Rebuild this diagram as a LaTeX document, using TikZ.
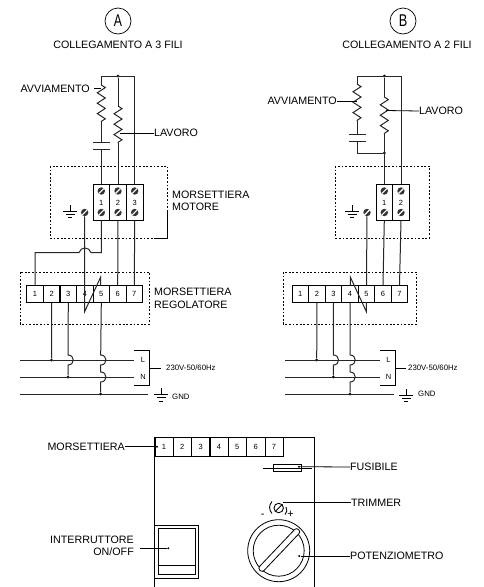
\documentclass[tikz,border=0pt]{standalone}
\usepackage{fontspec}
\setmainfont{Liberation Sans}
\usetikzlibrary{decorations.pathmorphing}

\tikzset{
    wire/.style={line width=1pt, black!85},
    thin wire/.style={line width=0.8pt, black},
    dot box/.style={line width=0.8pt, dash pattern=on 1.8pt off 1.8pt},
    resistor/.style={decorate, decoration={zigzag, segment length=10.4, amplitude=4}},
    cell/.style={draw, line width=0.9pt, minimum width=16.5, minimum height=16.5, inner sep=0pt, font=\fontsize{7.5}{8}\selectfont},
    motor cell/.style={draw, line width=0.9pt, minimum width=16.7, minimum height=36, inner sep=0pt},
    panel cell/.style={draw, line width=0.7pt, minimum width=18.3, minimum height=18.5, inner sep=0pt, font=\fontsize{7.5}{8}\selectfont},
    screw/.style={circle, fill=black!80, minimum size=7.4, inner sep=0pt,
        path picture={\draw[white, line width=1.1pt] (path picture bounding box.south west) -- (path picture bounding box.north east);}},
    junction/.style={circle, fill=black, minimum size=3, inner sep=0pt},
    lbl/.style={inner sep=0pt, font=\fontsize{10.7}{12.4}\selectfont},
    small lbl/.style={inner sep=0pt, font=\fontsize{7.8}{9}\selectfont},
    num/.style={inner sep=0pt, font=\fontsize{7.5}{8}\selectfont},
}

% earth symbol
\newcommand{\earth}[3]{%
    \coordinate (#1) at (#2,#3);
    \draw[thin wire] (#1) -- ++(0,-6.5);
    \draw[thin wire] ([xshift=-7]#1) -- ([xshift=7]#1);
    \draw[thin wire] ([xshift=-4.5,yshift=-3.2]#1) -- ([xshift=4.5,yshift=-3.2]#1);
    \draw[thin wire] ([xshift=-2,yshift=-6.4]#1) -- ([xshift=2,yshift=-6.4]#1);
}

\begin{document}
\begin{tikzpicture}[x=1pt, y=-1pt]
    \useasboundingbox (0,0) rectangle (484,587);

    % titles
    \node[circle, draw, line width=0.7pt, minimum size=26, inner sep=0pt, font=\fontsize{17}{17}\selectfont] (titleA) at (118,21) {\scalebox{.72}[1]{A}};
    \node[lbl] (subA) at (118,44.5) {COLLEGAMENTO A 3 FILI};
    \node[circle, draw, line width=0.7pt, minimum size=26, inner sep=0pt, font=\fontsize{17}{17}\selectfont] (titleB) at (403,21) {\scalebox{.75}[1]{B}};
    \node[lbl] (subB) at (407,45) {COLLEGAMENTO A 2 FILI};

    % motor A
    \draw[dot box] (50,166) rectangle (167.5,238);
    \draw[line width=0.9pt] (154,238) -- (167.5,238) -- (167.5,212);
    \foreach \n/\x in {1/101.3, 2/118, 3/134.7} {
        \node[motor cell] (ma\n) at (\x,202) {};
        \node[num] (na\n) at (\x,202.5) {\n};
        \node[screw] (sa\n) at (\x,191) {};
        \node[screw] (ta\n) at (\x,212.5) {};
        \coordinate (ra\n) at (\x,76);
    }
    \node[screw] (sa0) at (84.7,212.5) {};
    \earth{ea}{70}{211}

    \node[junction] (top) at (118,76) {};
    \coordinate (capa) at (101.3,142);
    \coordinate (capb) at (101.3,149);
    \draw[wire] (ra1) -- (ra3);
    \draw[wire] (ra1) -- (101.3,85);
    \draw[wire, resistor] (101.3,85) -- (101.3,122);
    \draw[wire] (101.3,122) -- (capa);
    \draw[wire] ([xshift=-8.5]capa) -- ([xshift=8.5]capa);
    \draw[wire] ([xshift=-8.5]capb) -- ([xshift=8.5]capb);
    \draw[wire] (capb) -- (ma1.north);
    \draw[wire] (top) -- (118,106);
    \draw[wire, resistor] (118,106) -- (118,143);
    \draw[wire] (118,143) -- (ma2.north);
    \draw[wire] (ra3) -- (ma3.north);

    \node[lbl, anchor=east] (avvA) at (90,88.5) {AVVIAMENTO};
    \draw[thin wire] (avvA.east) ++(4,0) -- (101.3,88.5);
    \node[lbl, anchor=west] (lavA) at (154,133) {LAVORO};
    \draw[thin wire] (120,133) -- (lavA.west);
    \node[lbl, anchor=west, align=left] (motA) at (172,201) {MORSETTIERA\\MOTORE};

    % regolatore A
    \draw[dot box] (20,272) rectangle (149.5,324);
    \foreach \n/\x in {1/35, 2/51.6, 3/68.3, 4/85, 5/101.3, 6/117.7, 7/134.3} {
        \node[cell] (ga\n) at (\x,294) {\n};
    }
    \node[lbl, anchor=west, align=left] (regA) at (154,298.5) {MORSETTIERA\\REGOLATORE};
    \draw[wire] (ga1.north) -- (35,252.5) -- (79,252.5) .. controls (81,246.5) and (89,246.5) .. (91,252.5) -- (101.3,252.5) -- (ma1.south);
    \draw[wire] (sa0) -- (84.7,311.5) -- (100.7,277) -- (100.7,285.7);
    \draw[wire] (ma2.south) -- (ga6.north);
    \draw[wire] (ma3.south) -- (ga7.north);

    % linea A
    \node[junction] (la) at (51.5,360) {};
    \node[junction] (na) at (68,377) {};
    \node[junction] (ga) at (100.7,394) {};
    \coordinate (lla) at (134,360);
    \coordinate (nla) at (134,377);
    \draw[wire] (20,360) -- (lla);
    \draw[wire] (20,377) -- (nla);
    \draw[wire] (20,394) -- (148,394);
    \draw[wire] (ga2.south) -- (la);
    \draw[wire] (ga3.south) -- (68,355) .. controls (75,355) and (75,365) .. (68,365) -- (na);
    \draw[wire] (ga5.south) -- (100.7,355) .. controls (107.7,355) and (107.7,365) .. (100.7,365) -- (100.7,372) .. controls (107.7,372) and (107.7,382) .. (100.7,382) -- (ga);
    \draw[thin wire] (134,350) -- (149,350) -- (149,385) -- (134,385);
    \node[num] (Lla) at (143,360) {L};
    \node[num] (Nla) at (143,377) {N};
    \node[small lbl, anchor=west] (volA) at (166,368) {230V-50/60Hz};
    \draw[thin wire] (149,368) -- (161,368);
    \earth{egA}{161}{394.5}
    \node[small lbl, anchor=west] (gndA) at (172,397) {GND};

    % motor B
    \draw[dot box] (335.3,166) rectangle (429.3,238);
    \foreach \n/\x in {1/384.3, 2/401} {
        \node[motor cell] (mb\n) at (\x,202) {};
        \node[num] (nb\n) at (\x,202.5) {\n};
        \node[screw] (sb\n) at (\x,191) {};
        \node[screw] (tb\n) at (\x,212.5) {};
    }
    \node[screw] (sb0) at (367,212.5) {};
    \earth{eb}{352}{211}

    \node[junction] (topb) at (384.3,76) {};
    \node[junction] (botb) at (384.3,153) {};
    \coordinate (capc) at (357,134);
    \coordinate (capd) at (357,141);
    \draw[wire] (357,76) -- (401,76) -- (mb2.north);
    \draw[wire] (357,76) -- (357,84);
    \draw[wire, resistor] (357,84) -- (357,121);
    \draw[wire] (357,121) -- (capc);
    \draw[wire] ([xshift=-8.5]capc) -- ([xshift=8.5]capc);
    \draw[wire] ([xshift=-8.5]capd) -- ([xshift=8.5]capd);
    \draw[wire] (capd) -- (357,153) -- (botb);
    \draw[wire] (topb) -- (384.3,97);
    \draw[wire, resistor] (384.3,97) -- (384.3,134);
    \draw[wire] (384.3,134) -- (mb1.north);

    \node[lbl, anchor=east] (avvB) at (337,101) {AVVIAMENTO};
    \draw[thin wire] (avvB.east) -- (357,101);
    \node[lbl, anchor=west] (lavB) at (419,111) {LAVORO};
    \draw[thin wire] (386,110.5) -- (lavB.west);

    % regolatore B
    \draw[dot box] (283.3,272) rectangle (416.7,324);
    \foreach \n/\x in {1/300.3, 2/317, 3/333.5, 4/350, 5/366.5, 6/383, 7/399.5} {
        \node[cell] (gb\n) at (\x,294) {\n};
    }
    \draw[wire] (sb0) -- (gb5.north);
    \draw[wire] (mb1.south) -- (gb6.north);
    \draw[wire] (mb2.south) -- (gb7.north);
    \draw[wire] (350.3,285.7) -- (350.3,277) -- (366.3,311.5) -- (366.3,302);

    % linea B
    \node[junction] (lb) at (316.7,360) {};
    \node[junction] (nbb) at (333.3,377) {};
    \node[junction] (gbb) at (350,394) {};
    \coordinate (llb) at (380,360);
    \coordinate (nlb) at (380,377);
    \draw[wire] (285.3,360) -- (llb);
    \draw[wire] (285.3,377) -- (nlb);
    \draw[wire] (285.3,394) -- (394,394);
    \draw[wire] (gb2.south) -- (lb);
    \draw[wire] (gb3.south) -- (333.3,355) .. controls (340.3,355) and (340.3,365) .. (333.3,365) -- (nbb);
    \draw[wire] (gb4.south) -- (350,355) .. controls (357,355) and (357,365) .. (350,365) -- (350,372) .. controls (357,372) and (357,382) .. (350,382) -- (gbb);
    \draw[thin wire] (380,350) -- (395,350) -- (395,385) -- (380,385);
    \node[num] (Llb) at (388.5,360) {L};
    \node[num] (Nlb) at (388.5,377) {N};
    \node[small lbl, anchor=west] (volB) at (408,368) {230V-50/60Hz};
    \draw[thin wire] (395,368) -- (406,368);
    \earth{egB}{406.3}{395}
    \node[small lbl, anchor=west] (gndB) at (418,394) {GND};

    % pannello
    \draw[thin wire] (154.7,587) -- (154.7,437.3) -- (314.7,437.3) -- (314.7,587);
    \foreach \n/\x in {1/164, 2/182.3, 3/200.6, 4/219, 5/237.3, 6/255.7, 7/274} {
        \node[panel cell] (pn\n) at (\x,446.7) {\n};
    }
    \node[junction, minimum size=2.2] (pd1) at (157,446.7) {};
    \node[lbl, anchor=east] (morP) at (125,446.7) {MORSETTIERA};
    \draw[thin wire] (morP.east) -- (pd1);

    % fusibile
    \draw[thin wire] (273.3,464) rectangle (301.7,471.7);
    \draw[thin wire] (262.7,468) -- (311.7,468);
    \node[junction, minimum size=2.2] (fd) at (299,466.7) {};
    \node[lbl, anchor=west] (fusP) at (350,467) {FUSIBILE};
    \draw[thin wire] (fd) -- (fusP.west);

    % trimmer
    \node[circle, draw, line width=0.9pt, minimum size=9.5, inner sep=0pt] (trm) at (278.7,508) {};
    \draw[line width=0.9pt] (trm.south west) -- (trm.north east);
    \draw[line width=0.9pt] (272,501.5) .. controls (268.8,505) and (268.8,510) .. (272,513.5);
    \draw[line width=0.9pt] (286,507) .. controls (287.5,509.5) and (287,512.5) .. (285,514.5);
    \coordinate (trd) at (283,502.5);
    \node[lbl, anchor=west] (triP) at (351,502.5) {TRIMMER};
    \draw[thin wire] (trd) -- (triP.west);
    \node[num, font=\fontsize{11}{11}\selectfont] (meno) at (262.7,515.5) {-};
    \node[num, font=\fontsize{11}{11}\selectfont] (piu) at (290.5,514.5) {+};

    % manopola
    \node[circle, draw, line width=0.8pt, minimum size=62, inner sep=0pt] (knob) at (278.7,550.7) {};
    \node[circle, draw, line width=0.8pt, minimum size=51, inner sep=0pt] (knobin) at (278.7,550.7) {};
    \node[rectangle, rounded corners=2.5pt, draw, fill=white, line width=0.8pt, minimum width=56, minimum height=6, inner sep=0pt, rotate=46.5] (ptr) at (279.3,550) {};
    \node[junction, minimum size=2.2] (kd) at (299.3,556) {};
    \node[lbl, anchor=west] (potP) at (350,556) {POTENZIOMETRO};
    \draw[thin wire] (kd) -- (potP.west);

    % interruttore
    \draw[thin wire] (154.7,525) rectangle (198.7,578);
    \draw[thin wire] (158.3,528.3) rectangle (195.7,574.3);
    \draw[thin wire] (158.3,565) -- (195.7,565);
    \node[junction, minimum size=2.2] (sd) at (168.3,548.3) {};
    \node[lbl, align=right, anchor=east] (intP) at (134,546) {INTERRUTTORE\\ON/OFF};
    \draw[thin wire] (140,548.3) -- (sd);
\end{tikzpicture}
\end{document}
